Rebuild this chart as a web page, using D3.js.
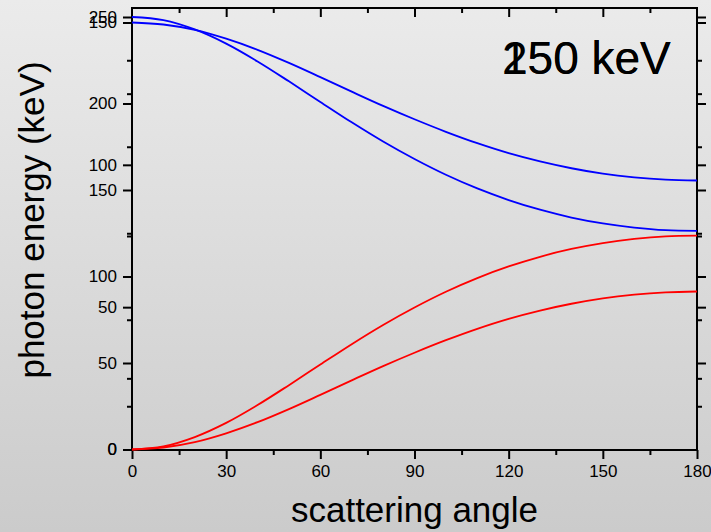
<!DOCTYPE html>
<html>
<head>
<meta charset="utf-8">
<script src="https://cdn.jsdelivr.net/npm/d3@7"></script>
<style>
  html, body { margin: 0; padding: 0; }
  body { width: 711px; height: 532px; overflow: hidden; }
  svg { display: block; }
</style>
</head>
<body>
<svg id="chart" width="711" height="532"></svg>
<script>
// scattering angle (degrees)
const angles = [0, 10, 20, 30, 40, 50, 60, 70, 80, 90, 100, 110, 120, 130, 140, 150, 160, 170, 180];
// 250 keV incident photon: scattered photon energy (keV)
const photon250 = [250, 248.2, 242.8, 234.6, 224.3, 212.8, 200.9, 189.1, 178.0, 167.9, 158.8, 150.9, 144.2, 138.6, 134.1, 130.7, 128.3, 126.8, 126.4];
// 250 keV incident photon: recoil electron energy (keV)
const electron250 = [0, 1.8, 7.2, 15.4, 25.7, 37.2, 49.1, 60.9, 72.0, 82.1, 91.2, 99.1, 105.8, 111.4, 115.9, 119.3, 121.7, 123.2, 123.6];
// 150 keV incident photon: scattered photon energy (keV)
const photon150 = [150, 149.3, 147.4, 144.3, 140.4, 135.8, 130.8, 125.7, 120.7, 116.0, 111.6, 107.6, 104.1, 101.2, 98.8, 96.9, 95.6, 94.8, 94.5];
// 150 keV incident photon: recoil electron energy (keV)
const electron150 = [0, 0.7, 2.6, 5.7, 9.6, 14.2, 19.2, 24.3, 29.3, 34.0, 38.4, 42.4, 45.9, 48.8, 51.2, 53.1, 54.4, 55.2, 55.5];

const xTicks = [0, 30, 60, 90, 120, 150, 180];
const xMinorTicks = [15, 45, 75, 105, 135, 165];
const yTicks250 = [0, 50, 100, 150, 200, 250];
const yMinor250 = [25, 75, 125, 175, 225];
const yTicks150 = [0, 50, 100, 150];
const yMinor150 = [25, 75, 125];
const titles = ["250 keV", "150 keV"];
const xTitle = "scattering angle";
const yTitle = "photon energy (keV)";

const svg = d3.select("#chart");
const W = 711, H = 532;
const pLeft = 132, pRight = 697, pTop = 8, pBottom = 450;

// background gradient
const defs = svg.append("defs");
const grad = defs.append("linearGradient").attr("id", "bg").attr("x1", 0).attr("y1", 0).attr("x2", 0).attr("y2", 1);
grad.append("stop").attr("offset", "0%").attr("stop-color", "#ebebeb");
grad.append("stop").attr("offset", "100%").attr("stop-color", "#cbcbcb");
svg.append("rect").attr("width", W).attr("height", H).attr("fill", "url(#bg)");

const x = d3.scaleLinear().domain([0, 180]).range([pLeft, pRight]);
const y250 = d3.scaleLinear().domain([0, 250]).range([449.5, 17]);
const y150 = d3.scaleLinear().domain([0, 150]).range([449.5, 22.5]);

const font = "'Liberation Sans', Arial, sans-serif";

function styleAxis(g) {
  g.selectAll("path").attr("stroke", "#000").attr("stroke-width", 2);
  g.selectAll("line").attr("stroke", "#000").attr("stroke-width", 2);
  g.selectAll("text").attr("font-family", font).attr("font-size", 17).attr("fill", "#000");
}

// bottom axis (outward ticks)
svg.append("g").attr("transform", `translate(0,${pBottom})`)
  .call(d3.axisBottom(x).tickValues(xMinorTicks).tickSize(5).tickFormat("").tickSizeOuter(0))
  .call(styleAxis).select("path").remove();
svg.append("g").attr("transform", `translate(0,${pBottom})`)
  .call(d3.axisBottom(x).tickValues(xTicks).tickSize(9).tickPadding(6).tickFormat(d3.format("d")).tickSizeOuter(0))
  .call(styleAxis).select("path").remove();

// top axis (inward ticks)
svg.append("g").attr("transform", `translate(0,${pTop})`)
  .call(d3.axisBottom(x).tickValues(xMinorTicks).tickSize(5).tickFormat("").tickSizeOuter(0))
  .call(styleAxis).select("path").remove();
svg.append("g").attr("transform", `translate(0,${pTop})`)
  .call(d3.axisBottom(x).tickValues(xTicks.slice(1, -1)).tickSize(9).tickFormat("").tickSizeOuter(0))
  .call(styleAxis).select("path").remove();

// left axes (outward) and right axes (inward)
[[y250, yTicks250, yMinor250], [y150, yTicks150, yMinor150]].forEach(([ys, maj, min]) => {
  svg.append("g").attr("transform", `translate(${pLeft},0)`)
    .call(d3.axisLeft(ys).tickValues(min).tickSize(5).tickFormat("").tickSizeOuter(0))
    .call(styleAxis).select("path").remove();
  svg.append("g").attr("transform", `translate(${pLeft},0)`)
    .call(d3.axisLeft(ys).tickValues(maj).tickSize(9).tickPadding(6).tickFormat(d3.format("d")).tickSizeOuter(0))
    .call(styleAxis).select("path").remove();
  svg.append("g").attr("transform", `translate(${pRight},0)`)
    .call(d3.axisLeft(ys).tickValues(min).tickSize(-5).tickFormat("").tickSizeOuter(0))
    .call(styleAxis).select("path").remove();
  svg.append("g").attr("transform", `translate(${pRight},0)`)
    .call(d3.axisLeft(ys).tickValues(maj.filter(v => v > 0)).tickSize(-9).tickFormat("").tickSizeOuter(0))
    .call(styleAxis).select("path").remove();
});

// frame
svg.append("rect").attr("x", pLeft).attr("y", pTop).attr("width", pRight - pLeft).attr("height", pBottom - pTop)
  .attr("fill", "none").attr("stroke", "#000").attr("stroke-width", 2);

// curves
const series = [
  { vals: photon150, ys: y150, color: "#0000ff" },
  { vals: photon250, ys: y250, color: "#0000ff" },
  { vals: electron250, ys: y250, color: "#ff0000" },
  { vals: electron150, ys: y150, color: "#ff0000" }
];
series.forEach(s => {
  const line = d3.line().x((d, i) => x(angles[i])).y(d => s.ys(d)).curve(d3.curveCatmullRom);
  svg.append("path").datum(s.vals).attr("d", line)
    .attr("fill", "none").attr("stroke", s.color).attr("stroke-width", 1.8);
});

// titles (overlaid, as in the original slide)
titles.forEach(t => {
  svg.append("text").attr("x", 502).attr("y", 74).text(t)
    .attr("font-family", font).attr("font-size", 46).attr("fill", "#000");
});

// axis titles
svg.append("text").attr("x", 414.5).attr("y", 522).attr("text-anchor", "middle").text(xTitle)
  .attr("font-family", font).attr("font-size", 35).attr("fill", "#000");
svg.append("text").attr("transform", "translate(44,220) rotate(-90)").attr("text-anchor", "middle").text(yTitle)
  .attr("font-family", font).attr("font-size", 35).attr("fill", "#000");
</script>
</body>
</html>
